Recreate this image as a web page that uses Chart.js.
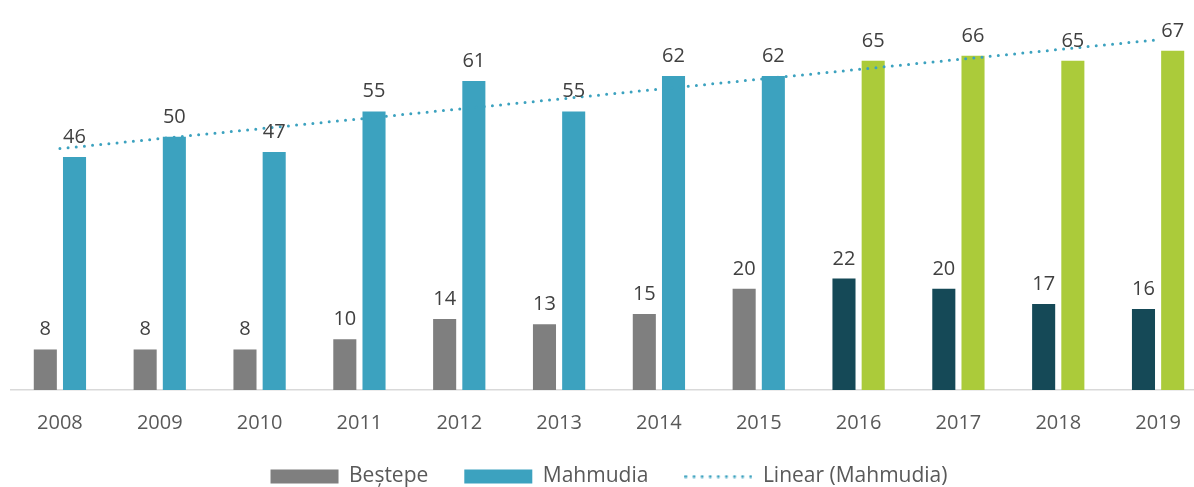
<!DOCTYPE html>
<html>
<head>
<meta charset="utf-8">
<script src="https://cdn.jsdelivr.net/npm/chart.js@4.4.1/dist/chart.umd.min.js"></script>
<style>
    html, body { margin: 0; padding: 0; background: #fff; overflow: hidden; width: 1194px; height: 487px; }
    #wrap { position: absolute; left: 10px; top: 0; width: 1198px; height: 497px; }
</style>
</head>
<body>
<div id="wrap"><canvas id="chart" width="1198" height="497"></canvas></div>
<script>
const years = ['2008', '2009', '2010', '2011', '2012', '2013', '2014', '2015', '2016', '2017', '2018', '2019'];
const bestepe = [8, 8, 8, 10, 14, 13, 15, 20, 22, 20, 17, 16];
const mahmudia = [46, 50, 47, 55, 61, 55, 62, 62, 65, 66, 65, 67];

const GREY = '#7f7f7f';
const BLUE = '#3ca2bf';
const DARK = '#154957';
const GREEN = '#abcb3a';
const FONT = '"Open Sans", sans-serif';

// last four years are drawn in the darker / green palette
const bestepeColors = years.map(y => +y >= 2016 ? DARK : GREY);
const mahmudiaColors = years.map(y => +y >= 2016 ? GREEN : BLUE);

// least squares trend for Mahmudia (Excel "Linear" trendline)
function linearTrend(values) {
    const n = values.length;
    const mx = (n - 1) / 2;
    const my = values.reduce((a, b) => a + b, 0) / n;
    let sxy = 0, sxx = 0;
    values.forEach((v, i) => {
        sxy += (i - mx) * (v - my);
        sxx += (i - mx) * (i - mx);
    });
    const slope = sxy / sxx;
    return values.map((v, i) => my + slope * (i - mx));
}

function dottedLegendLine() {
    const c = document.createElement('canvas');
    c.width = 68;
    c.height = 4;
    const g = c.getContext('2d');
    g.fillStyle = BLUE;
    for (let i = 0; i < 9; i++) {
        g.beginPath();
        g.arc(1.5 + i * 8.1, 2, 1.5, 0, Math.PI * 2);
        g.fill();
    }
    return c;
}

const barLabels = {
    id: 'barLabels',
    afterDatasetsDraw(chart) {
        const ctx = chart.ctx;
        ctx.save();
        ctx.font = '20px ' + FONT;
        ctx.fillStyle = '#404040';
        ctx.textAlign = 'center';
        ctx.textBaseline = 'alphabetic';
        chart.data.datasets.forEach((ds, i) => {
            if (ds.type === 'line') return;
            chart.getDatasetMeta(i).data.forEach((bar, j) => {
                ctx.fillText(ds.data[j], bar.x, bar.y - 14);
            });
        });
        ctx.restore();
    }
};

Chart.defaults.font.family = FONT;

new Chart(document.getElementById('chart').getContext('2d'), {
    type: 'bar',
    data: {
        labels: years,
        datasets: [
            {
                type: 'line',
                label: 'Linear (Mahmudia)',
                data: linearTrend(mahmudia),
                borderColor: BLUE,
                borderWidth: 3,
                borderDash: [0, 8.2],
                borderCapStyle: 'round',
                pointRadius: 0,
                fill: false,
                order: 0
            },
            {
                label: 'Beștepe',
                data: bestepe,
                backgroundColor: bestepeColors,
                barPercentage: 0.79,
                categoryPercentage: 0.585,
                order: 1
            },
            {
                label: 'Mahmudia',
                data: mahmudia,
                backgroundColor: mahmudiaColors,
                barPercentage: 0.79,
                categoryPercentage: 0.585,
                order: 1
            }
        ]
    },
    options: {
        responsive: false,
        animation: false,
        devicePixelRatio: 1,
        layout: { padding: 0 },
        plugins: {
            tooltip: { enabled: false },
            legend: {
                position: 'bottom',
                labels: {
                    usePointStyle: true,
                    pointStyleWidth: 68,
                    boxHeight: 14,
                    padding: 36,
                    color: '#595959',
                    font: { size: 21, family: FONT },
                    generateLabels: function() {
                        return [
                            { text: 'Beștepe', fillStyle: GREY, strokeStyle: GREY, lineWidth: 0, pointStyle: 'rect', fontColor: '#595959' },
                            { text: 'Mahmudia', fillStyle: BLUE, strokeStyle: BLUE, lineWidth: 0, pointStyle: 'rect', fontColor: '#595959' },
                            { text: 'Linear (Mahmudia)', fillStyle: BLUE, strokeStyle: BLUE, lineWidth: 0, pointStyle: dottedLegendLine(), fontColor: '#595959' }
                        ];
                    }
                }
            }
        },
        scales: {
            x: {
                grid: { display: false, drawTicks: false },
                border: { color: '#d9d9d9', width: 1.5 },
                ticks: {
                    color: '#595959',
                    font: { size: 20 },
                    padding: 21
                },
                afterFit: function(scale) {
                    scale.height = 40;
                }
            },
            y: {
                display: false,
                min: 0,
                max: 77
            }
        }
    },
    plugins: [barLabels]
});
</script>
</body>
</html>
